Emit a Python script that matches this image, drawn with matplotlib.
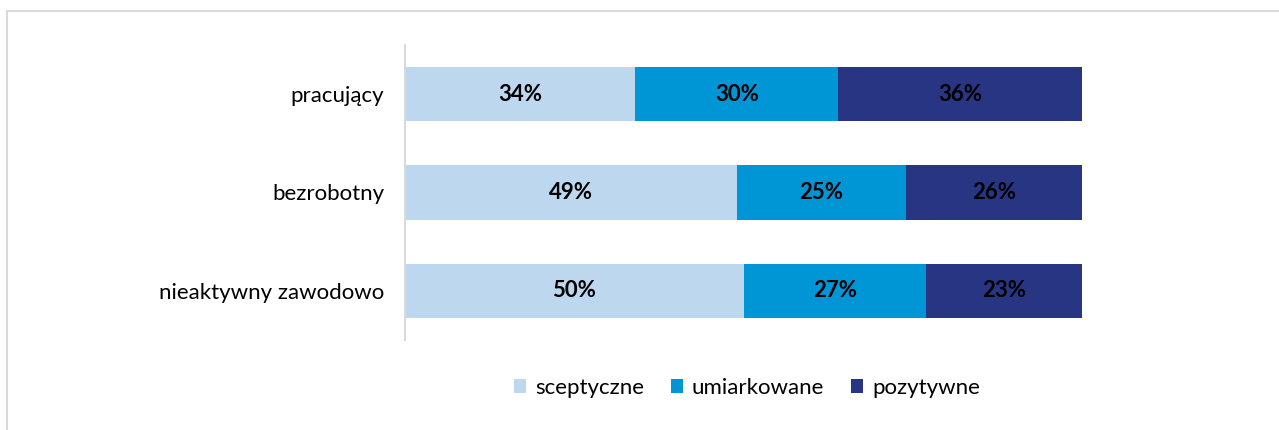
import matplotlib.pyplot as plt
from matplotlib.patches import Rectangle

categories = ['pracujący', 'bezrobotny', 'nieaktywny zawodowo']
sceptyczne = [34, 49, 50]
umiarkowane = [30, 25, 27]
pozytywne = [36, 26, 23]
series_names = ['sceptyczne', 'umiarkowane', 'pozytywne']
colors = ['#BDD7EE', '#0096D6', '#283583']

plt.rcParams['font.family'] = ['Lato', 'DejaVu Sans']

W, H = 1279, 430
fig = plt.figure(figsize=(W / 100, H / 100), dpi=100)

# frame around the chart (only top and left fall inside the picture)
fig.patches.append(Rectangle((7 / W, -0.1), 1.2, 1 - 11 / H + 0.1,
                             transform=fig.transFigure, fill=False,
                             edgecolor='#D9D9D9', linewidth=1.5))

ax = fig.add_axes([405 / W, 1 - 340 / H, 677 / W, 295 / H])

y = list(range(len(categories)))
left = [0] * len(categories)
for name, vals, c in zip(series_names, [sceptyczne, umiarkowane, pozytywne], colors):
    bars = ax.barh(y, vals, left=left, height=0.55, color=c, label=name)
    for b, v, l in zip(bars, vals, left):
        ax.text(l + v / 2, b.get_y() + b.get_height() / 2, f'{v}%',
                ha='center', va='center', fontsize=16, fontweight='bold',
                color='black')
    left = [l + v for l, v in zip(left, vals)]

ax.set_xlim(0, 100)
ax.set_ylim(2.5, -0.5)
ax.set_yticks(y)
ax.set_yticklabels(categories, fontsize=16)
ax.tick_params(axis='y', length=0, pad=15)
ax.set_xticks([])
for s in ['top', 'right', 'bottom']:
    ax.spines[s].set_visible(False)
ax.spines['left'].set_color('#D9D9D9')
ax.spines['left'].set_linewidth(1.5)

fig.legend(loc='center', bbox_to_anchor=(747 / W, 1 - 388 / H), ncol=3,
           frameon=False, fontsize=16, handlelength=0.55, handleheight=0.55,
           handletextpad=0.4, columnspacing=1.2)

fig.savefig('out.png', dpi=100)
